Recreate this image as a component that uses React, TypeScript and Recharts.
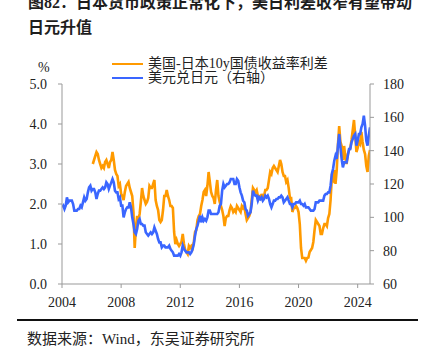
import React from "react";
import { Line, LineChart, XAxis, YAxis } from "recharts";

const startYear = 2004;
const yearTicks = [2004, 2008, 2012, 2016, 2020, 2024];
const leftTicks = [0, 1, 2, 3, 4, 5];
const rightTicks = [60, 80, 100, 120, 140, 160, 180];

// 美元兑日元, monthly, 2004-01 .. 2024-11
const usdjpy = [
  106, 107, 105, 107, 112, 109, 110, 110, 110, 108, 104, 104,
  104, 105, 105, 107, 106, 109, 112, 110, 111, 115, 118, 119,
  116, 117, 117, 115, 111, 114, 116, 116, 117, 118, 117, 118,
  121, 120, 117, 119, 121, 123, 121, 116, 115, 115, 111, 112,
  107, 107, 100, 103, 105, 106, 106, 109, 106, 100, 96, 91,
  90, 93, 98, 99, 96, 96, 95, 95, 91, 90, 89, 90,
  91, 90, 91, 94, 92, 90, 87, 85, 85, 82, 83, 83,
  82, 82, 82, 83, 81, 80, 79, 77, 77, 77, 77, 78,
  77, 79, 83, 81, 80, 79, 79, 79, 78, 79, 81, 84,
  89, 93, 95, 98, 101, 97, 100, 98, 99, 98, 100, 104,
  104, 102, 102, 102, 102, 102, 102, 103, 107, 108, 116, 120,
  118, 119, 120, 120, 121, 123, 123, 123, 120, 120, 123, 122,
  118, 115, 113, 110, 109, 105, 104, 101, 102, 103, 108, 116,
  114, 113, 113, 110, 112, 111, 112, 110, 111, 113, 112, 113,
  111, 108, 106, 108, 110, 110, 111, 111, 112, 112, 113, 112,
  109, 110, 111, 112, 110, 108, 108, 106, 108, 108, 109, 109,
  109, 110, 108, 108, 107, 108, 106, 106, 106, 105, 104, 104,
  104, 105, 109, 109, 109, 110, 110, 110, 110, 113, 114, 114,
  115, 115, 119, 126, 129, 134, 137, 135, 143, 150, 142, 135,
  130, 133, 133, 133, 137, 141, 141, 145, 147, 149, 150, 143,
  146, 150, 150, 154, 156, 161, 155, 146, 143, 149, 154,
];

// 美国-日本10y国债收益率利差 (%), starts 2006-02
const spread: (number | null)[] = [
  null, null, null, null, null, null, null, null, null, null, null, null,
  null, null, null, null, null, null, null, null, null, null, null, null,
  null, 3.0, 3.1, 3.2, 3.3, 3.25, 3.1, 3.0, 2.9, 2.95, 2.9, 3.05,
  3.1, 3.0, 2.9, 3.05, 3.1, 3.3, 3.1, 2.85, 2.75, 2.7, 2.45, 2.5,
  2.25, 2.2, 2.1, 2.3, 2.45, 2.5, 2.55, 2.4, 2.3, 2.2, 1.8, 0.9,
  1.4, 1.7, 1.6, 1.75, 2.05, 2.4, 2.2, 2.1, 2.0, 2.05, 2.15, 2.45,
  2.4, 2.4, 2.5, 2.6, 2.1, 1.95, 1.85, 1.6, 1.55, 1.6, 1.85, 2.2,
  2.2, 2.35, 2.2, 2.1, 1.95, 1.95, 1.9, 1.3, 1.0, 1.1, 1.0, 0.95,
  1.0, 1.05, 1.25, 1.0, 0.85, 0.8, 0.75, 0.95, 0.9, 0.95, 0.9, 1.05,
  1.3, 1.35, 1.6, 1.7, 1.75, 1.95, 2.1, 2.3, 2.35, 2.2, 2.45, 2.8,
  2.55, 2.3, 2.2, 2.15, 2.0, 2.35, 2.6, 2.2, 2.05, 1.95, 1.85, 1.7,
  1.45, 1.65, 1.7, 1.7, 1.85, 1.95, 1.9, 1.8, 1.85, 1.8, 1.95, 1.9,
  1.85, 1.8, 1.95, 1.9, 1.95, 1.75, 1.6, 1.65, 1.7, 1.8, 2.1, 2.4,
  2.35, 2.3, 2.35, 2.2, 2.2, 2.1, 2.25, 2.15, 2.2, 2.35, 2.35, 2.4,
  2.6, 2.8, 2.75, 2.9, 2.95, 2.9, 2.85, 2.8, 2.95, 3.1, 3.0, 2.8,
  2.7, 2.7, 2.55, 2.6, 2.4, 2.15, 2.15, 1.8, 1.9, 1.9, 1.95, 1.9,
  1.8, 1.5, 0.9, 0.65, 0.65, 0.65, 0.58, 0.65, 0.66, 0.8, 0.85, 0.9,
  1.05, 1.35, 1.6, 1.55, 1.5, 1.45, 1.25, 1.25, 1.4, 1.5, 1.5, 1.45,
  1.65, 1.75, 2.1, 2.65, 2.6, 2.85, 2.5, 2.85, 3.5, 3.95, 3.55, 3.45,
  3.1, 3.45, 3.15, 3.0, 3.25, 3.35, 3.4, 3.6, 3.85, 4.1, 3.7, 3.3,
  3.4, 3.55, 3.5, 3.8, 3.55, 3.35, 3.25, 2.95, 2.8, 3.2, 3.35,
];

const data = usdjpy.map((v, i) => ({
  t: startYear + i / 12,
  usdjpy: v,
  spread: spread[i],
}));

const ORANGE = "#ff9a00";
const BLUE = "#3a66ff";
const serif = '"Liberation Serif", "Times New Roman", "Noto Sans CJK SC", serif';
const tickStyle = { fontSize: 14, fill: "#222", fontFamily: serif };
const axisColor = "#999";

export default function App() {
  return (
    <div
      style={{
        position: "fixed",
        left: 0,
        top: 0,
        width: 425,
        height: 360,
        background: "#fff",
        overflow: "hidden",
        fontFamily: serif,
        color: "#222",
      }}
    >
      {/* first title line is clipped by the top edge, as in the source image */}
      <div
        style={{
          position: "absolute",
          left: 28,
          top: -10,
          fontSize: 16,
          lineHeight: "25px",
          fontWeight: 700,
          whiteSpace: "nowrap",
          color: "#1e1e1e",
        }}
      >
        图82：日本货币政策正常化下，美日利差收窄有望带动
        <br />
        日元升值
      </div>

      <div style={{ position: "absolute", left: 38, top: 60, fontSize: 14, lineHeight: "16px" }}>%</div>

      <div style={{ position: "absolute", left: 112, top: 63, width: 31, height: 2, background: ORANGE }} />
      <div style={{ position: "absolute", left: 148, top: 56, fontSize: 14, lineHeight: "16px" }}>
        美国-日本10y国债收益率利差
      </div>
      <div style={{ position: "absolute", left: 112, top: 77, width: 31, height: 2, background: BLUE }} />
      <div style={{ position: "absolute", left: 148, top: 70, fontSize: 14, lineHeight: "16px" }}>
        美元兑日元（右轴）
      </div>

      <div style={{ position: "absolute", left: 0, top: 0 }}>
        <LineChart width={425} height={320} data={data} margin={{ top: 84, right: 15, bottom: 10, left: 22 }}>
          <XAxis
            dataKey="t"
            type="number"
            domain={[2004, 2024 + 10 / 12]}
            ticks={yearTicks}
            tick={tickStyle}
            tickSize={4}
            tickMargin={9}
            height={26}
            stroke={axisColor}
            allowDataOverflow
          />
          <YAxis
            yAxisId="left"
            domain={[0, 5]}
            ticks={leftTicks}
            tickFormatter={(v: number) => v.toFixed(1)}
            tick={tickStyle}
            tickSize={4}
            tickMargin={11}
            width={40}
            stroke={axisColor}
          />
          <YAxis
            yAxisId="right"
            orientation="right"
            domain={[60, 180]}
            ticks={rightTicks}
            tick={{ ...tickStyle, textAnchor: "start" }}
            tickSize={4}
            tickMargin={9}
            width={40}
            stroke={axisColor}
          />
          <Line
            yAxisId="left"
            dataKey="spread"
            stroke={ORANGE}
            strokeWidth={2.6}
            dot={false}
            isAnimationActive={false}
          />
          <Line
            yAxisId="right"
            dataKey="usdjpy"
            stroke={BLUE}
            strokeWidth={2.6}
            dot={false}
            isAnimationActive={false}
          />
        </LineChart>
      </div>

      <div style={{ position: "absolute", left: 17, top: 319, width: 401, height: 2, background: "#111" }} />
      <div style={{ position: "absolute", left: 27, top: 330, fontSize: 15, lineHeight: "18px", whiteSpace: "nowrap" }}>
        数据来源：Wind，东吴证券研究所
      </div>
    </div>
  );
}
